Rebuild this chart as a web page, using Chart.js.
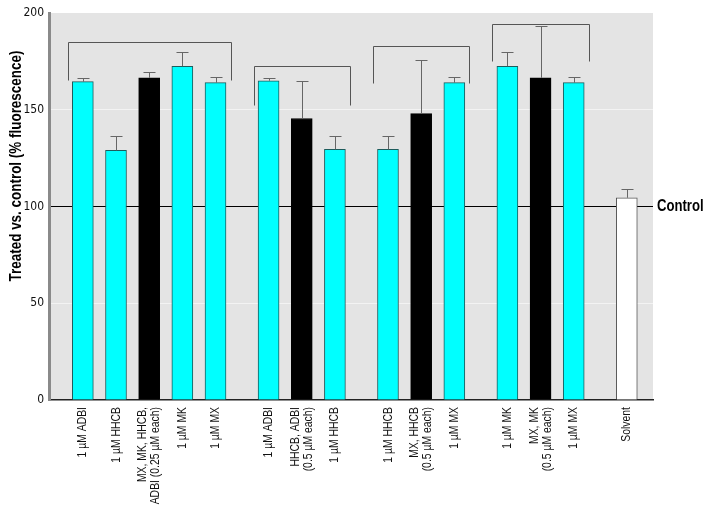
<!DOCTYPE html>
<html>
<head>
<meta charset="utf-8">
<script src="https://cdn.jsdelivr.net/npm/chart.js@4"></script>
<style>
  html, body { margin: 0; padding: 0; background: #fff; }
  #wrap { width: 707px; height: 517px; }
</style>
</head>
<body>
<div id="wrap"><canvas id="chart" width="707" height="517"></canvas></div>
<script>
// bar labels, left to right
const labels = [
    '1 \u00b5M ADBI', '1 \u00b5M HHCB', ['MX, MK, HHCB,', 'ADBI (0.25 \u00b5M each)'], '1 \u00b5M MK', '1 \u00b5M MX',
    '1 \u00b5M ADBI', ['HHCB, ADBI', '(0.5 \u00b5M each)'], '1 \u00b5M HHCB',
    '1 \u00b5M HHCB', ['MX, HHCB', '(0.5 \u00b5M each)'], '1 \u00b5M MX',
    '1 \u00b5M MK', ['MX, MK', '(0.5 \u00b5M each)'], '1 \u00b5M MX',
    'Solvent'
];
const groupSizes = [5, 3, 3, 3, 1];
const barKinds = [
    'single', 'single', 'mix', 'single', 'single',
    'single', 'mix', 'single',
    'single', 'mix', 'single',
    'single', 'mix', 'single',
    'solvent'
];
// treated vs. control (% fluorescence)
const values = [164.5, 129, 166.5, 172.5, 164, 165, 145.5, 129.5, 129.5, 148, 164, 172.5, 166.5, 164, 104.5];
const errors = [2, 7.5, 3, 7.5, 3, 1.5, 19.5, 7, 7, 27.5, 3, 7.5, 27, 3, 4.5];
// brackets over the first four groups: top line and where the legs end
const bracketTops = [185, 172.5, 183, 194.5];
const bracketEnds = [165.5, 152.5, 164, 175];
const controlValue = 100;

const FONT = "'Liberation Sans', Arial, sans-serif";
const NARROW = 0.8; // no narrow font installed, so squeeze the text
const GROUP_GAP = 0.6;

// x position of each bar = its index plus extra room between groups
const positions = [];
const groupOf = [];
let n = 0;
groupSizes.forEach((size, g) => {
    for (let k = 0; k < size; k++) {
        positions.push(n + g * GROUP_GAP);
        groupOf.push(g);
        n++;
    }
});

const fills = { single: '#00ffff', mix: '#000000', solvent: '#ffffff' };
const edges = { single: '#1d5c5c', mix: '#000000', solvent: '#555555' };

const plotBg = {
    id: 'plotBg',
    beforeDraw(chart) {
        const a = chart.chartArea, ctx = chart.ctx;
        ctx.save();
        ctx.fillStyle = '#e4e4e4';
        ctx.fillRect(a.left, a.top, a.right - a.left, a.bottom - a.top);
        ctx.restore();
    }
};

const extras = {
    id: 'extras',
    afterDatasetsDraw(chart) {
        const ctx = chart.ctx;
        const y = chart.scales.y;
        const bars = chart.getDatasetMeta(0).data;
        ctx.save();
        // error bars (upper only)
        ctx.strokeStyle = '#666';
        ctx.lineWidth = 1;
        bars.forEach((bar, i) => {
            const x = Math.round(bar.x) + 0.5;
            const yTop = Math.round(y.getPixelForValue(values[i] + errors[i])) + 0.5;
            ctx.beginPath();
            ctx.moveTo(x, bar.y);
            ctx.lineTo(x, yTop);
            ctx.moveTo(x - 6, yTop);
            ctx.lineTo(x + 6, yTop);
            ctx.stroke();
        });
        // group brackets
        ctx.strokeStyle = '#555';
        bracketTops.forEach((top, g) => {
            const members = bars.filter((b, i) => groupOf[i] === g);
            const x0 = Math.round(members[0].x - 15) + 0.5;
            const x1 = Math.round(members[members.length - 1].x + 15) + 0.5;
            const yt = Math.round(y.getPixelForValue(top)) + 0.5;
            const ye = Math.round(y.getPixelForValue(bracketEnds[g])) + 0.5;
            ctx.beginPath();
            ctx.moveTo(x0, ye);
            ctx.lineTo(x0, yt);
            ctx.lineTo(x1, yt);
            ctx.lineTo(x1, ye);
            ctx.stroke();
        });
        ctx.restore();
    },
    afterDraw(chart) {
        const ctx = chart.ctx;
        const a = chart.chartArea;
        const bars = chart.getDatasetMeta(0).data;

        // rotated category labels under each bar
        ctx.save();
        ctx.fillStyle = '#111';
        ctx.font = '13px ' + FONT;
        ctx.textAlign = 'right';
        ctx.textBaseline = 'middle';
        bars.forEach((bar, i) => {
            const lines = [].concat(labels[i]);
            lines.forEach((line, j) => {
                const x = bar.x + (j - (lines.length - 1) / 2) * 13;
                ctx.save();
                ctx.translate(x, a.bottom + 7);
                ctx.rotate(-Math.PI / 2);
                ctx.scale(NARROW, 1);
                ctx.fillText(line, 0, 0);
                ctx.restore();
            });
        });
        ctx.restore();

        ctx.save();
        ctx.fillStyle = '#000';
        ctx.textBaseline = 'middle';
        ctx.textAlign = 'left';
        ctx.font = 'bold 16px ' + FONT;
        ctx.translate(a.right + 4, chart.scales.y.getPixelForValue(controlValue));
        ctx.scale(0.82, 1);
        ctx.fillText('Control', 0, 0);
        ctx.restore();

        ctx.save();
        ctx.fillStyle = '#000';
        ctx.textBaseline = 'middle';
        ctx.textAlign = 'center';
        ctx.font = 'bold 16px ' + FONT;
        ctx.translate(17, 166);
        ctx.rotate(-Math.PI / 2);
        ctx.scale(0.84, 1);
        ctx.fillText('Treated vs. control (% fluorescence)', 0, 0);
        ctx.restore();
    }
};

new Chart(document.getElementById('chart'), {
    type: 'bar',
    data: {
        datasets: [{
            data: values.map((v, i) => ({ x: positions[i], y: v })),
            backgroundColor: barKinds.map(k => fills[k]),
            borderColor: barKinds.map(k => edges[k]),
            borderWidth: 1,
            barThickness: 21
        }]
    },
    options: {
        responsive: false,
        animation: false,
        devicePixelRatio: 1,
        layout: { padding: { top: 13, right: 54, left: 0, bottom: 0 } },
        plugins: {
            legend: { display: false },
            tooltip: { enabled: false }
        },
        scales: {
            x: {
                type: 'linear',
                min: -1.02,
                max: 17.19,
                offset: false,
                grid: { display: false },
                border: { color: '#222', width: 1.5 },
                afterBuildTicks: s => { s.ticks = positions.map(v => ({ value: v })); },
                afterFit: s => { s.height = 117; },
                ticks: { display: false }
            },
            y: {
                min: 0,
                max: 200,
                afterFit: s => { s.width = 49; },
                border: { color: '#8a8a8a', width: 3 },
                grid: {
                    drawTicks: false,
                    lineWidth: 1,
                    color: c => c.tick.value === controlValue ? '#000' :
                        (c.tick.value === 50 || c.tick.value === 150 ? '#f3f3f3' : 'rgba(0,0,0,0)')
                },
                ticks: {
                    stepSize: 50,
                    padding: 5,
                    color: '#111',
                    font: { family: "'DejaVu Sans Condensed', sans-serif", size: 12 }
                }
            }
        }
    },
    plugins: [plotBg, extras]
});
</script>
</body>
</html>
